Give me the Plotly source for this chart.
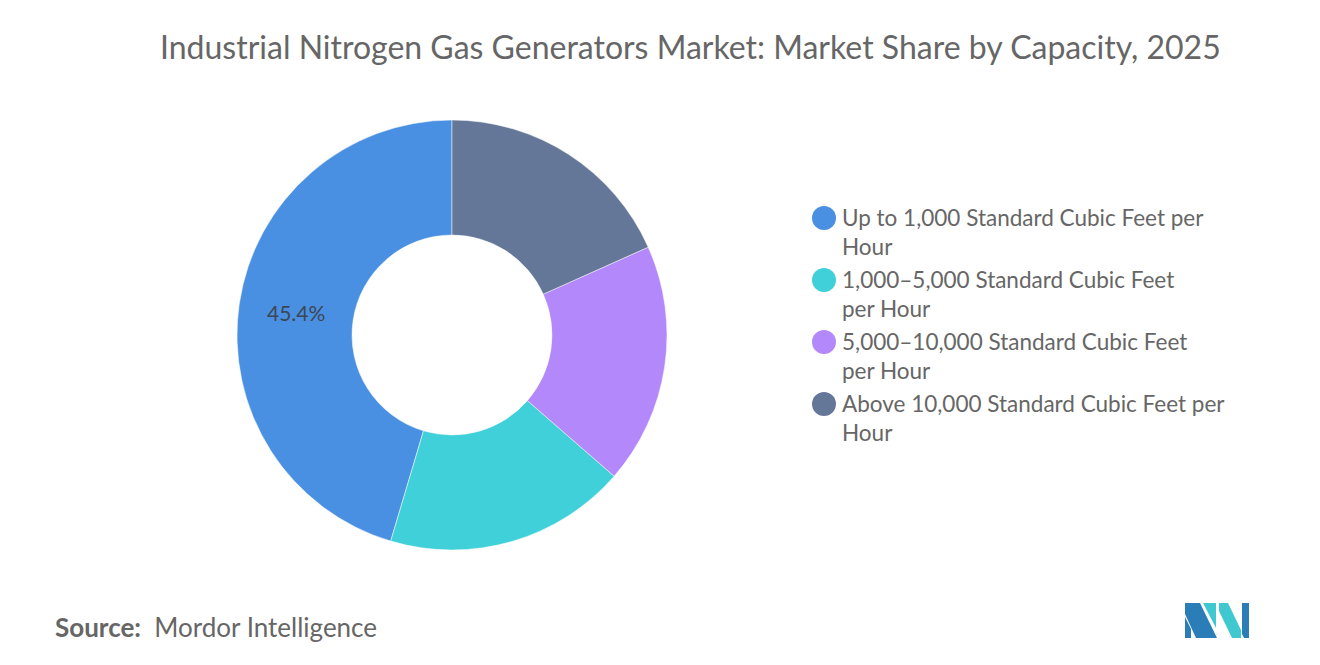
import plotly.graph_objects as go

# Market share by capacity, 2025 (%)
labels = [
    "Up to 1,000 Standard Cubic Feet per<br>Hour",
    "1,000–5,000 Standard Cubic Feet<br>per Hour",
    "5,000–10,000 Standard Cubic Feet<br>per Hour",
    "Above 10,000 Standard Cubic Feet per<br>Hour",
]
shares = [45.4, 18.2, 18.1, 18.3]
shown_labels = ["45.4%", "", "", ""]
colors = ["#4A90E2", "#3FD0DA", "#B288FB", "#657798"]

W, H = 1320, 665
GRAY = "#666666"

fig = go.Figure()

# first slice should start at 12 o'clock and run counter-clockwise
start_rot = 360 * (1 - shares[0] / sum(shares))

fig.add_trace(go.Pie(
    labels=[l.replace("<br>", " ") for l in labels],
    values=shares,
    text=shown_labels,
    texttemplate="%{text}",
    textposition="inside",
    insidetextorientation="horizontal",
    textfont=dict(family="Lato", size=21, color="#3D4654"),
    hole=0.465,
    sort=False,
    direction="counterclockwise",
    rotation=start_rot,
    marker=dict(colors=colors, line=dict(color="white", width=0.5)),
    domain=dict(x=[237 / W, 667 / W], y=[1 - 550 / H, 1 - 120 / H]),
    showlegend=False,
    hoverinfo="label+percent",
))

# custom legend with round markers
shapes = []
annotations = []
for i, (lab, col) in enumerate(zip(labels, colors)):
    cy = 218 + i * 62
    shapes.append(dict(
        type="circle", xref="paper", yref="paper",
        x0=812 / W, x1=836 / W,
        y0=1 - (cy + 12) / H, y1=1 - (cy - 12) / H,
        fillcolor=col, line=dict(width=0),
    ))
    annotations.append(dict(
        text=lab, xref="paper", yref="paper",
        x=840 / W, y=1 - (cy - 16) / H,
        xanchor="left", yanchor="top", align="left", showarrow=False,
        font=dict(family="Lato", size=22.5, color=GRAY),
    ))

# source line
annotations.append(dict(
    text="<b>Source:</b>  Mordor Intelligence", xref="paper", yref="paper",
    x=53 / W, y=1 - 627 / H, xanchor="left", yanchor="middle", showarrow=False,
    font=dict(family="Lato", size=26, color=GRAY),
))


def poly(pts, col):
    d = "M " + " L ".join(f"{x / W},{1 - y / H}" for x, y in pts) + " Z"
    return dict(type="path", xref="paper", yref="paper", path=d,
                fillcolor=col, line=dict(width=0))


# logo
DARK, LIGHT = "#2B7DB8", "#3FC8CF"
shapes += [
    poly([(1185, 617), (1191, 629), (1191, 638), (1185, 638)], DARK),
    poly([(1185, 603), (1200, 603), (1217, 638), (1196, 638), (1185, 614)], DARK),
    poly([(1203, 603), (1216, 603), (1216, 628)], LIGHT),
    poly([(1219, 603), (1228, 603), (1241, 630), (1241, 638), (1232, 638), (1219, 611)], LIGHT),
    poly([(1242, 603), (1249, 603), (1249, 638), (1244, 638), (1242, 634)], DARK),
]

fig.update_layout(
    width=W, height=H,
    margin=dict(l=0, r=0, t=0, b=0),
    paper_bgcolor="white",
    plot_bgcolor="white",
    title=dict(
        text="Industrial Nitrogen Gas Generators Market: Market Share by Capacity, 2025",
        x=0.523, xanchor="center", y=1 - 48 / H, yanchor="middle",
        font=dict(family="Lato", size=32, color=GRAY),
    ),
    shapes=shapes,
    annotations=annotations,
)

fig.write_html("out.html", config={"displayModeBar": False},
               post_script="document.body.style.margin='0';")
